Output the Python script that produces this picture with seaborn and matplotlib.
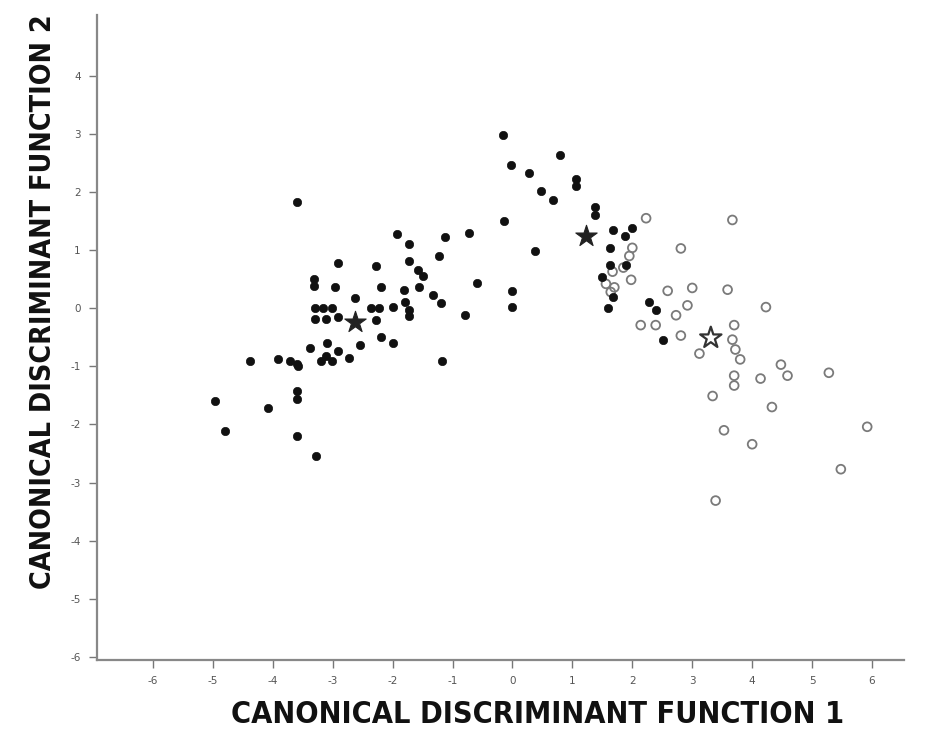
import matplotlib
matplotlib.use("Agg")
import matplotlib.pyplot as plt
import seaborn as sns
import pandas as pd

# Group 1 (filled dots)
g1_x = [-3.60, -2.91, -2.28, -3.32, -3.32, -2.97, -2.62, -3.30, -3.16, -3.02,
        -3.30, -3.11, -2.92, -2.36, -2.22, -2.27, -2.00, -3.38, -3.10, -2.91,
        -2.55, -2.72, -3.19, -3.02, -3.11, -4.38, -3.91, -3.72, -3.60, -3.58,
        -3.60, -3.60, -4.97, -4.08, -4.80, -3.60, -3.28, -0.14, -1.93, -1.73,
        -1.12, -0.72, -1.22, -1.72, -1.58, -1.50, -2.19, -1.81, -1.56, -1.33,
        -1.19, -0.60, 0.00, 0.00, -0.80, -1.80, -1.72, -1.72, -2.19, -2.00,
        -1.17, -0.15, 0.80, -0.03, 0.27, 1.06, 1.06, 0.48, 0.68, 1.38,
        1.38, 0.37, 1.67, 2.00, 1.88, 1.63, 1.62, 1.90, 1.50, 1.67,
        1.59, 2.28, 2.39, 2.52]
g1_y = [1.83, 0.78, 0.73, 0.50, 0.39, 0.36, 0.18, 0.00, 0.00, 0.00,
        -0.19, -0.19, -0.15, 0.00, 0.00, -0.20, 0.02, -0.68, -0.60, -0.74,
        -0.63, -0.85, -0.91, -0.91, -0.82, -0.91, -0.88, -0.91, -0.96, -1.00,
        -1.42, -1.56, -1.59, -1.72, -2.12, -2.20, -2.55, 1.51, 1.28, 1.11,
        1.22, 1.29, 0.90, 0.81, 0.66, 0.56, 0.37, 0.32, 0.37, 0.22,
        0.09, 0.43, 0.30, 0.03, -0.12, 0.11, -0.03, -0.14, -0.49, -0.59,
        -0.91, 2.98, 2.63, 2.47, 2.32, 2.23, 2.10, 2.01, 1.86, 1.75,
        1.60, 0.99, 1.35, 1.39, 1.25, 1.04, 0.75, 0.75, 0.54, 0.19,
        0.00, 0.11, -0.03, -0.54]

# Group 2 (open circles)
g2_x = [2.23, 3.67, 2.81, 2.00, 1.95, 1.98, 1.67, 1.56, 1.70, 2.59,
        3.00, 3.59, 4.23, 2.92, 2.73, 2.14, 2.39, 2.81, 3.12, 3.70,
        3.67, 3.72, 3.80, 3.70, 3.70, 4.14, 4.33, 3.34, 3.53, 4.00,
        3.39, 4.48, 4.59, 5.28, 5.92, 5.48, 1.85, 1.64]
g2_y = [1.55, 1.52, 1.03, 1.04, 0.90, 0.49, 0.63, 0.42, 0.36, 0.30,
        0.35, 0.32, 0.02, 0.05, -0.12, -0.29, -0.29, -0.47, -0.78, -0.29,
        -0.54, -0.71, -0.88, -1.16, -1.33, -1.21, -1.70, -1.51, -2.10, -2.34,
        -3.31, -0.97, -1.16, -1.11, -2.04, -2.77, 0.70, 0.28]

# Group centroids (stars)
c_filled_x = [-2.62, 1.22]
c_filled_y = [-0.23, 1.24]
c_open_x = [3.31]
c_open_y = [-0.51]

x_ticks = [-6, -5, -4, -3, -2, -1, 0, 1, 2, 3, 4, 5, 6]
y_ticks = [-6, -5, -4, -3, -2, -1, 0, 1, 2, 3, 4]

sns.set_style("ticks")
plt.rcParams['font.family'] = ['DejaVu Sans']

fig = plt.figure(figsize=(9.44, 7.43), dpi=100)
ax = fig.add_axes([0.103, 0.112, 0.855, 0.868])

df1 = pd.DataFrame({"x": g1_x, "y": g1_y})
df2 = pd.DataFrame({"x": g2_x, "y": g2_y})
dfc1 = pd.DataFrame({"x": c_filled_x, "y": c_filled_y})
dfc2 = pd.DataFrame({"x": c_open_x, "y": c_open_y})

sns.scatterplot(data=df2, x="x", y="y", ax=ax, marker="o", s=40,
                facecolor="none", edgecolor="#7a7a7a", linewidth=1.3)
sns.scatterplot(data=df1, x="x", y="y", ax=ax, marker="o", s=36,
                color="#111111", edgecolor="#111111", linewidth=0.5)
sns.scatterplot(data=dfc1, x="x", y="y", ax=ax, marker="*", s=260,
                color="#222222", edgecolor="#222222", linewidth=0.8)
sns.scatterplot(data=dfc2, x="x", y="y", ax=ax, marker="*", s=260,
                facecolor="none", edgecolor="#333333", linewidth=1.6)

ax.set_xlim(-6.93, 6.54)
ax.set_ylim(-6.05, 5.05)
ax.set_xticks(x_ticks)
ax.set_yticks(y_ticks)
ax.set_xticklabels([str(t) for t in x_ticks])
ax.set_yticklabels([str(t) for t in y_ticks])
ax.tick_params(axis="both", direction="out", length=6, width=1.0,
               color="#777777", labelcolor="#555555", labelsize=7.5, pad=6)

for side in ("top", "right"):
    ax.spines[side].set_visible(False)
for side in ("left", "bottom"):
    ax.spines[side].set_color("#888888")
    ax.spines[side].set_linewidth(1.6)

xlab_font = dict(family=["DejaVu Sans"], fontstretch="condensed",
                 fontweight="bold", fontsize=22, color="#111111")
ylab_font = dict(family=["DejaVu Sans"], fontstretch="condensed",
                 fontweight="bold", fontsize=20.5, color="#111111")
ax.set_xlabel("CANONICAL DISCRIMINANT FUNCTION 1", **xlab_font)
ax.set_ylabel("CANONICAL DISCRIMINANT FUNCTION 2", **ylab_font)
ax.xaxis.set_label_coords(0.545, -0.062)
ax.yaxis.set_label_coords(-0.05, 0.555)

fig.savefig("out.png", dpi=100, facecolor="white")
